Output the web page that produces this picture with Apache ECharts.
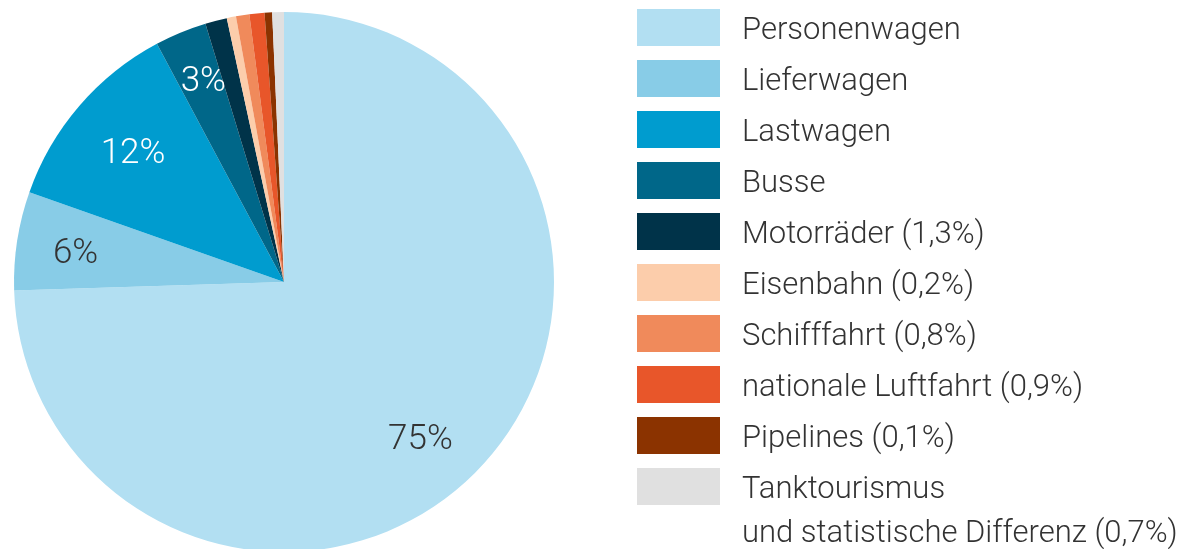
<!DOCTYPE html>
<html>
<head>
<meta charset="utf-8">
<script src="https://cdn.jsdelivr.net/npm/echarts@6/dist/echarts.min.js"></script>
<style>
html,body{margin:0;padding:0;background:#fff;}
#c{width:1192px;height:549px;}
</style>
</head>
<body>
<div id="c"></div>
<script>
const categories = ['Personenwagen','Lieferwagen','Lastwagen','Busse','Motorräder (1,3%)','Eisenbahn (0,2%)','Schifffahrt (0,8%)','nationale Luftfahrt (0,9%)','Pipelines (0,1%)','Tanktourismus\nund statistische Differenz (0,7%)'];
const values = [74.5, 5.9, 11.8, 3.1, 1.3, 0.55, 0.8, 0.9, 0.45, 0.7];
const sliceLabels = ['75%','6%','12%','3%','','','','','',''];
const labelColors = ['#333333','#333333','#ffffff','#ffffff','#fff','#fff','#fff','#fff','#fff','#fff'];
const labelOffsets = [[-15,11],[0,5],[9,10],[0,-5],[0,0],[0,0],[0,0],[0,0],[0,0],[0,0]];
const colors = ['#b2dff2','#88cce7','#009ccf','#006789','#003349','#fccdab','#f08a5b','#e8562a','#8b3300','#e0e0e0'];

const chart = echarts.init(document.getElementById('c'), null, {renderer:'canvas'});
const center = [284, 282];
const R = 270;
const iconTop = 10, legendStep = 51, textLeft = 742;

const mainData = categories.map((n,i)=>({name:n, value:values[i], itemStyle:{color:colors[i]}}));
const labelData = categories.map((n,i)=>({name:n, value:values[i],
  label:{show: sliceLabels[i] !== '', formatter: sliceLabels[i], color: labelColors[i], offset: labelOffsets[i]}}));

// continuation lines of multi-line legend names
const extraLines = [];
categories.forEach((n,i)=>{
  n.split('\n').slice(1).forEach((t,k)=>{
    extraLines.push({type:'text', left:textLeft, top: iconTop + i*legendStep + 37/2 + 39*(k+1) - 8,
      style:{text:t, font:'300 31px Roboto', fill:'#333333', textVerticalAlign:'top'}});
  });
});

chart.setOption({
  animation:false,
  legend:{
    orient:'vertical', left:637, top:iconTop - 1, padding:0,
    itemWidth:83, itemHeight:37, itemGap:legendStep-38,
    icon:'rect', selectedMode:false,
    formatter: n => '{a|' + n.split('\n')[0] + '}',
    textStyle:{fontFamily:'Roboto', fontWeight:300, fontSize:31, color:'#333333', padding:[0,0,0,17],
      rich:{a:{fontFamily:'Roboto', fontWeight:300, fontSize:31, color:'#333333', padding:[8,0,0,0]}}},
    data: categories
  },
  graphic: extraLines,
  series:[
    {
      type:'pie', center:center, radius:[0,R], startAngle:90, clockwise:true,
      data: mainData, label:{show:false}, labelLine:{show:false},
      itemStyle:{borderWidth:0}, emphasis:{disabled:true}, silent:true
    },
    {
      type:'pie', center:center, radius:[R*0.54,R], startAngle:90, clockwise:true,
      data: labelData, legendHoverLink:false,
      itemStyle:{color:'rgba(0,0,0,0)', borderWidth:0},
      label:{position:'inside', fontFamily:'Roboto', fontWeight:300, fontSize:35},
      labelLine:{show:false}, emphasis:{disabled:true}, silent:true, tooltip:{show:false}
    }
  ]
});
</script>
</body>
</html>
